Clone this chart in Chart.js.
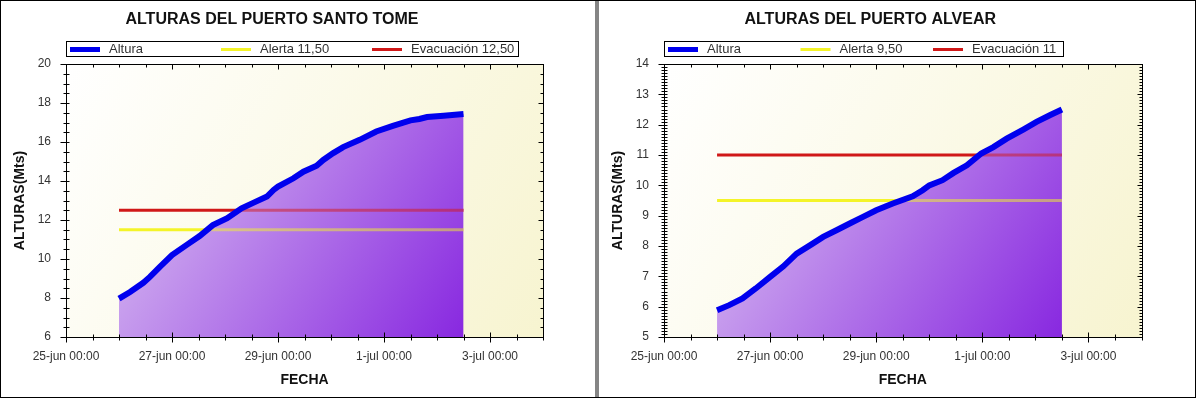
<!DOCTYPE html>
<html>
<head>
<meta charset="utf-8">
<script src="https://cdn.jsdelivr.net/npm/chart.js@4.4.1/dist/chart.umd.min.js"></script>
<style>
  html, body { margin: 0; padding: 0; background: #fff; }
  #marco { position: absolute; left: 0; top: 0; width: 1196px; height: 398px; box-sizing: border-box; border: 1px solid #000; }
  #divisor { position: absolute; left: 594px; top: 0; width: 4px; height: 396px; background: #858585; }
  .panel { position: absolute; top: 0; height: 396px; }
  #panel-st { left: 0; width: 594px; }
  #panel-al { left: 598px; width: 596px; }
</style>
</head>
<body>
<div id="marco">
  <div class="panel" id="panel-st"><canvas id="chart-st"></canvas></div>
  <div id="divisor"></div>
  <div class="panel" id="panel-al"><canvas id="chart-al"></canvas></div>
</div>
<script>
// horas desde el 25-jun 00:00
const horasSantoTome = [24, 29, 35, 38, 42.5, 48, 54.5, 60.5, 66.5, 73, 79.5, 85, 91, 94, 96, 103, 107.5, 113.5, 116.5, 121, 125.5, 133, 140.5, 148, 156, 160, 163.5, 171, 180];
const alturaSantoTome = [7.97, 8.31, 8.78, 9.08, 9.60, 10.20, 10.71, 11.18, 11.74, 12.09, 12.60, 12.89, 13.20, 13.54, 13.71, 14.14, 14.48, 14.78, 15.08, 15.43, 15.74, 16.11, 16.54, 16.83, 17.11, 17.18, 17.28, 17.35, 17.43];

const horasAlvear = [24, 29.5, 35.5, 41.5, 48, 54, 60, 66, 72, 78, 84, 90, 96, 103.5, 112.5, 117, 120, 126, 131, 137, 143.5, 149, 155, 162.5, 168.5, 174.5, 180];
const alturaAlvear = [5.88, 6.05, 6.27, 6.60, 6.98, 7.33, 7.75, 8.02, 8.30, 8.52, 8.74, 8.96, 9.18, 9.40, 9.64, 9.84, 10.00, 10.17, 10.41, 10.66, 11.05, 11.26, 11.54, 11.84, 12.09, 12.31, 12.50];

const etiquetasFecha = ['25-jun 00:00', '27-jun 00:00', '29-jun 00:00', '1-jul 00:00', '3-jul 00:00'];

const alertaSantoTome = 11.5;
const evacuacionSantoTome = 12.5;
const alertaAlvear = 9.5;
const evacuacionAlvear = 11;

const FUENTE = "'Liberation Sans', Arial, sans-serif";
const HORAS_MAX = 216;

function gradienteRelleno(horas, valores, alpha) {
  return (ctx) => {
    const chart = ctx.chart;
    const { chartArea, scales } = chart;
    if (!chartArea) return null;
    const x0 = scales.x.getPixelForValue(horas[0]);
    const x1 = scales.x.getPixelForValue(horas[horas.length - 1]);
    const y0 = scales.y.getPixelForValue(Math.max(...valores));
    const g = chart.ctx.createLinearGradient(x0, y0, x1, chartArea.bottom);
    g.addColorStop(0, `rgba(222,200,242,${alpha})`);
    g.addColorStop(1, `rgba(136,40,224,${alpha})`);
    return g;
  };
}

// fondo crema del area del grafico
const fondoPlugin = {
  id: 'fondo',
  beforeDraw(chart) {
    const { ctx, chartArea: a } = chart;
    const g = ctx.createLinearGradient(a.left, a.top, a.right, a.bottom);
    g.addColorStop(0, '#ffffff');
    g.addColorStop(1, '#f7f4d0');
    ctx.save();
    ctx.fillStyle = g;
    ctx.fillRect(a.left, a.top, a.width, a.height);
    ctx.restore();
  }
};

// marco y marcas menores/mayores en los cuatro lados
const marcasPlugin = {
  id: 'marcas',
  afterDatasetsDraw(chart, args, opts) {
    const { ctx, chartArea: a, scales: { x, y } } = chart;
    ctx.save();
    ctx.strokeStyle = '#000';
    ctx.lineWidth = 1;
    const L = Math.round(a.left) + 0.5, R = Math.round(a.right) + 0.5;
    const T = Math.round(a.top) + 0.5, B = Math.round(a.bottom) + 0.5;
    ctx.strokeRect(L, T, R - L, B - T);
    ctx.beginPath();
    const ny = Math.round((opts.yMax - opts.yMin) / opts.yMenor);
    for (let i = 0; i <= ny; i++) {
      const v = opts.yMin + i * opts.yMenor;
      const mayor = Math.abs(v / opts.yMayor - Math.round(v / opts.yMayor)) < 1e-6;
      const py = Math.round(y.getPixelForValue(v)) + 0.5;
      ctx.moveTo(L - (mayor ? 6 : 3), py); ctx.lineTo(L + 3, py);
      ctx.moveTo(R - (mayor ? 5 : 3), py); ctx.lineTo(R, py);
    }
    const nx = Math.round(HORAS_MAX / 12);
    for (let i = 0; i <= nx; i++) {
      const h = i * 12;
      const mayor = h % 48 === 0;
      const px = Math.round(x.getPixelForValue(h)) + 0.5;
      ctx.moveTo(px, B - (mayor ? 5 : 3)); ctx.lineTo(px, B + (mayor ? 5 : 3));
      ctx.moveTo(px, T); ctx.lineTo(px, T + (mayor ? 5 : 3));
    }
    ctx.stroke();
    ctx.restore();
  }
};

// leyenda en recuadro
const leyendaPlugin = {
  id: 'leyenda',
  afterDraw(chart, args, opts) {
    const { ctx, chartArea: a } = chart;
    const items = chart.data.datasets.filter(d => d.enLeyenda);
    const x0 = Math.round(a.left) + 0.5;
    const y0 = 40.5;
    ctx.save();
    ctx.fillStyle = '#fff';
    ctx.fillRect(x0, y0, opts.ancho, 15);
    ctx.strokeStyle = '#000';
    ctx.lineWidth = 1;
    ctx.strokeRect(x0, y0, opts.ancho, 15);
    ctx.font = `13px ${FUENTE}`;
    ctx.textBaseline = 'middle';
    items.forEach((d, i) => {
      const sx = x0 + 3.5 + i * opts.columna;
      const grosor = d.label === 'Altura' ? 5 : 3;
      ctx.fillStyle = d.borderColor;
      ctx.fillRect(sx, y0 + 8 - grosor / 2, 30, grosor);
      ctx.fillStyle = '#333';
      ctx.fillText(d.label, sx + 39, y0 + 8);
    });
    ctx.restore();
  }
};

function crearGrafico(id, cfg) {
  const inicio = cfg.horas[0];
  const fin = cfg.horas[cfg.horas.length - 1];
  const datos = cfg.horas.map((h, i) => ({ x: h, y: cfg.valores[i] }));
  const linea = (v) => [{ x: inicio, y: v }, { x: fin, y: v }];
  return new Chart(document.getElementById(id), {
    type: 'line',
    data: {
      datasets: [
        {
          label: 'Altura', enLeyenda: true, data: datos, order: 0,
          borderColor: '#0000ee', borderWidth: 6, pointRadius: 0, tension: 0,
          fill: 'start', backgroundColor: gradienteRelleno(cfg.horas, cfg.valores, 0.5)
        },
        {
          label: cfg.alertaTexto, enLeyenda: true, data: linea(cfg.alerta), order: 2,
          borderColor: '#f4f428', borderWidth: 3, pointRadius: 0, fill: false
        },
        {
          label: cfg.evacTexto, enLeyenda: true, data: linea(cfg.evac), order: 1,
          borderColor: '#d01818', borderWidth: 3, pointRadius: 0, fill: false
        },
        {
          label: 'relleno', enLeyenda: false, data: datos, order: 3,
          borderWidth: 0, borderColor: 'rgba(0,0,0,0)', pointRadius: 0, tension: 0,
          fill: 'start', backgroundColor: gradienteRelleno(cfg.horas, cfg.valores, 1)
        }
      ]
    },
    options: {
      responsive: true,
      maintainAspectRatio: false,
      animation: false,
      layout: { padding: { left: 0, right: cfg.derecha, top: 0, bottom: 0 } },
      plugins: {
        legend: { display: false },
        tooltip: { enabled: false },
        title: {
          display: true, text: cfg.titulo, color: '#111',
          font: { family: FUENTE, size: 16, weight: 'bold' },
          padding: { top: 9, bottom: 34.8 }
        },
        marcas: { yMin: cfg.yMin, yMax: cfg.yMax, yMayor: cfg.yMayor, yMenor: cfg.yMenor },
        leyenda: { ancho: cfg.anchoLeyenda, columna: cfg.columna }
      },
      scales: {
        x: {
          type: 'linear', min: 0, max: HORAS_MAX,
          afterFit: (s) => { s.height = 60; },
          grid: { display: false, drawTicks: false },
          border: { display: false },
          ticks: {
            stepSize: 48, includeBounds: false, autoSkip: false, maxRotation: 0, padding: 12,
            color: '#333', font: { family: FUENTE, size: 12 },
            callback: (v) => (v % 48 === 0 ? etiquetasFecha[v / 48] : '')
          },
          title: {
            display: true, text: 'FECHA', color: '#111',
            font: { family: FUENTE, size: 14, weight: 'bold' },
            padding: { top: 0, bottom: 8 }
          }
        },
        y: {
          min: cfg.yMin, max: cfg.yMax,
          afterFit: (s) => { s.width = 65; },
          grid: { display: false, drawTicks: false },
          border: { display: false },
          ticks: {
            stepSize: cfg.yMayor, padding: 15,
            color: '#333', font: { family: FUENTE, size: 12 }
          },
          title: {
            display: true, text: 'ALTURAS(Mts)', color: '#111',
            font: { family: FUENTE, size: 14, weight: 'bold' },
            padding: { top: 11, bottom: 0 }
          }
        }
      }
    },
    plugins: [fondoPlugin, marcasPlugin, leyendaPlugin]
  });
}

crearGrafico('chart-st', {
  titulo: 'ALTURAS DEL PUERTO SANTO TOME',
  horas: horasSantoTome, valores: alturaSantoTome,
  alerta: alertaSantoTome, evac: evacuacionSantoTome,
  alertaTexto: 'Alerta 11,50', evacTexto: 'Evacuación 12,50',
  yMin: 6, yMax: 20, yMayor: 2, yMenor: 0.5,
  derecha: 52, anchoLeyenda: 452, columna: 151
});

crearGrafico('chart-al', {
  titulo: 'ALTURAS DEL PUERTO ALVEAR',
  horas: horasAlvear, valores: alturaAlvear,
  alerta: alertaAlvear, evac: evacuacionAlvear,
  alertaTexto: 'Alerta 9,50', evacTexto: 'Evacuación 11',
  yMin: 5, yMax: 14, yMayor: 1, yMenor: 0.1,
  derecha: 53.5, anchoLeyenda: 399, columna: 132.5
});
</script>
</body>
</html>
